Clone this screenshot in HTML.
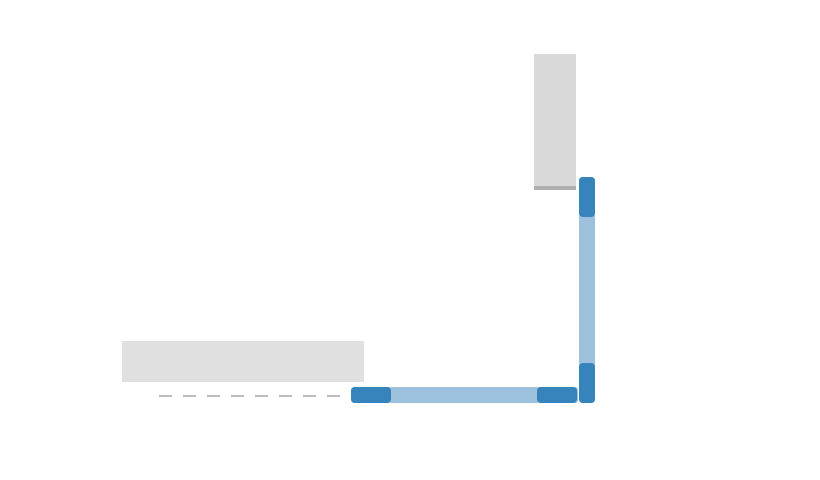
<!DOCTYPE html>
<html><head><style>
body{margin:0;width:820px;height:480px;background:#fff;position:relative;overflow:hidden;font-family:"Liberation Sans",sans-serif}
div{position:absolute}
</style></head><body>
<div style="left:122px;top:341px;width:242px;height:41px;background:#e0e0e0"></div>
<div style="left:534px;top:54px;width:42px;height:132px;background:#d9d9d9"></div>
<div style="left:534px;top:186px;width:42px;height:4px;background:#b0b0b0"></div>
<svg style="position:absolute;left:0;top:0" width="820" height="480">
<line x1="159" y1="396" x2="345" y2="396" stroke="#bdbdbd" stroke-width="2" stroke-dasharray="13 11"/>
</svg>
<div style="left:351px;top:387px;width:227px;height:16px;background:#9dc1dc;border-radius:3px"></div>
<div style="left:579px;top:177px;width:16px;height:226px;background:#9dc1dc;border-radius:3px"></div>
<div style="left:351px;top:387px;width:40px;height:16px;background:#3783bc;border-radius:4px"></div>
<div style="left:537px;top:387px;width:40px;height:16px;background:#3783bc;border-radius:4px"></div>
<div style="left:579px;top:177px;width:16px;height:40px;background:#3783bc;border-radius:4px"></div>
<div style="left:579px;top:363px;width:16px;height:40px;background:#3783bc;border-radius:4px"></div>
</body></html>
